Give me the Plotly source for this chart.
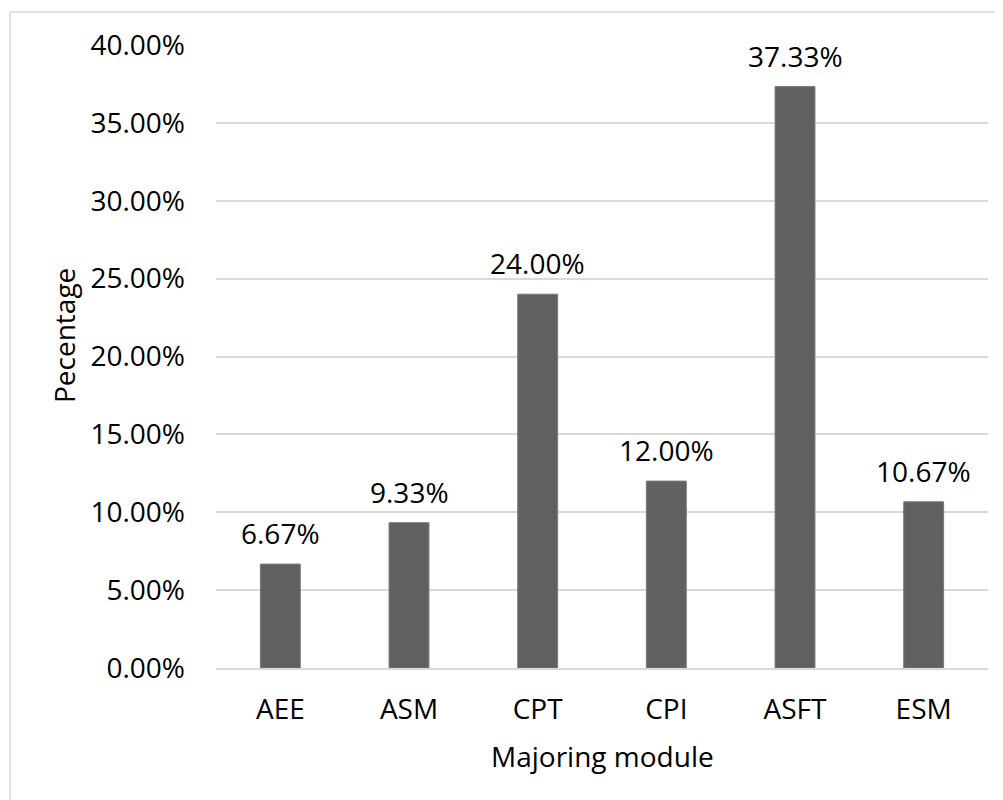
import plotly.graph_objs as go

modules = ["AEE", "ASM", "CPT", "CPI", "ASFT", "ESM"]
shares = [0.0667, 0.0933, 0.24, 0.12, 0.3733, 0.1067]
y_ticks = [0, 0.05, 0.10, 0.15, 0.20, 0.25, 0.30, 0.35, 0.40]

# page has an 8px body margin, so the figure is sized/offset to compensate
W, H = 995, 792
L, R, T, B = 208, 15, 37, 132
pw, ph = W - L - R, H - T - B
font = "Open Sans, Calibri, sans-serif"
fs = 28

fig = go.Figure()
fig.add_trace(go.Bar(
    x=modules, y=shares,
    marker=dict(color="#606060", line=dict(color="#7a7a7a", width=1)),
    cliponaxis=False,
))

# value labels above bars
for m, v in zip(modules, shares):
    fig.add_annotation(x=m, y=v, text=f"{v:.2%}", showarrow=False,
                       yanchor="bottom", yshift=10,
                       font=dict(size=fs, color="#000000"))

# axis titles
fig.add_annotation(xref="paper", yref="paper", x=(56 - L) / pw, y=(H - B - 328) / ph,
                   text="Pecentage", textangle=-90, showarrow=False,
                   xanchor="center", yanchor="middle", font=dict(size=fs))
fig.add_annotation(xref="paper", yref="paper", x=0.5, y=(H - B - 748) / ph,
                   text="Majoring module", showarrow=False,
                   xanchor="center", yanchor="middle", font=dict(size=fs))

# outer chart frame
fig.add_shape(type="rect", xref="paper", yref="paper",
              x0=(2 - L) / pw, x1=(994 - L) / pw,
              y0=(H - B - 820) / ph, y1=(H - B - 4) / ph,
              line=dict(color="#d9d9d9", width=1.5), layer="below")

fig.update_layout(
    width=W, height=H,
    margin=dict(l=L, r=R, t=T, b=B),
    paper_bgcolor="white", plot_bgcolor="white",
    font=dict(family=font, size=fs, color="#000000"),
    bargap=0.69,
    showlegend=False,
    xaxis=dict(showline=True, linecolor="#d9d9d9", linewidth=1.5,
               ticks="", ticklabelstandoff=16, tickfont=dict(size=fs)),
    yaxis=dict(range=[0, 0.40], tickvals=y_ticks, tickformat=".2%",
               gridcolor="#d9d9d9", gridwidth=1.5, zeroline=False,
               ticks="", ticklabelstandoff=30, tickfont=dict(size=fs)),
)

fig.write_html("out.html")
